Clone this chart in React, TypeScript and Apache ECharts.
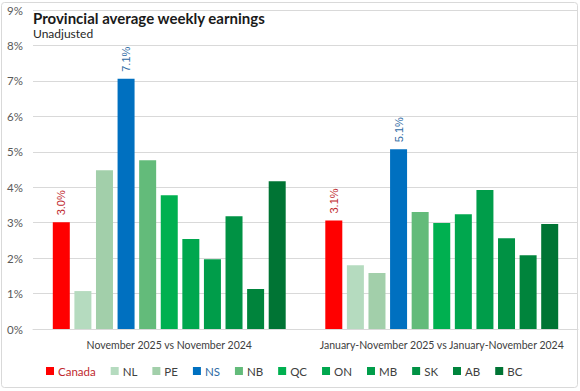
import React, { useEffect, useRef } from "react";
import * as echarts from "echarts";

const categories = ["November 2025 vs November 2024", "January-November 2025 vs January-November 2024"];
const seriesNames = ["Canada", "NL", "PE", "NS", "NB", "QC", "ON", "MB", "SK", "AB", "BC"];
const seriesColors = ["#ff0000", "#b5dbbf", "#a2cfaa", "#0070c0", "#63bb7a", "#00b050", "#00a74e", "#009d4a", "#009244", "#00843c", "#007434"];
const canada = [3.01, 3.06];
const nl = [1.07, 1.8];
const pe = [4.48, 1.58];
const ns = [7.06, 5.07];
const nb = [4.76, 3.3];
const qc = [3.77, 2.99];
const on = [2.54, 3.24];
const mb = [1.97, 3.92];
const sk = [3.18, 2.56];
const ab = [1.13, 2.08];
const bc = [4.17, 2.96];
const seriesValues = [canada, nl, pe, ns, nb, qc, on, mb, sk, ab, bc];
const labelledSeries: Record<string, string> = { Canada: "#c0282d", NS: "#2e6aa3" };
const yTicks = [0, 1, 2, 3, 4, 5, 6, 7, 8, 9];

export default function App() {
  const ref = useRef<HTMLDivElement>(null);
  useEffect(() => {
    if (!ref.current) return;
    const chart = echarts.init(ref.current, null, { renderer: "svg" });
    const font = "Lato, 'Liberation Sans', Arial, sans-serif";
    chart.setOption({
      animation: false,
      textStyle: { fontFamily: font },
      graphic: [
        {
          type: "rect",
          shape: { x: 1.5, y: 2.5, width: 576, height: 385, r: 3 },
          style: { fill: "none", stroke: "#d9d9d9", lineWidth: 1 },
          z: -1,
        },
        {
          type: "text",
          left: 33,
          top: 10,
          style: {
            text: "Provincial average weekly earnings",
            font: "bold 15px Lato, sans-serif",
            fill: "#1a1a1a",
          },
          z: 10,
        },
        {
          type: "text",
          left: 33,
          top: 27,
          style: {
            text: "Unadjusted",
            font: "12px Lato, sans-serif",
            fill: "#262626",
          },
          z: 10,
        },
      ],
      grid: { left: 33, right: 2, top: 10, bottom: 62 },
      legend: {
        bottom: 9,
        left: 41,
        icon: "rect",
        itemWidth: 8,
        itemHeight: 8,
        itemGap: 15,
        textStyle: { fontSize: 11.5, color: "#404040", fontFamily: font, padding: [0, 0, 0, -1] },
        data: seriesNames.map((n) => ({
          name: n,
          textStyle: labelledSeries[n] ? { color: labelledSeries[n] } : undefined,
        })),
      },
      xAxis: {
        type: "category",
        data: categories,
        axisTick: { show: false },
        axisLine: { lineStyle: { color: "#d9d9d9" } },
        axisLabel: { color: "#404040", fontSize: 10.5, margin: 10, interval: 0, fontFamily: font },
      },
      yAxis: {
        type: "value",
        min: yTicks[0],
        max: yTicks[yTicks.length - 1],
        interval: 1,
        axisLabel: { formatter: (v: number) => v + "%", color: "#595959", fontSize: 11.5, margin: 10, fontFamily: font },
        splitLine: { lineStyle: { color: "#d9d9d9" } },
      },
      series: seriesNames.map((name, i) => ({
        name,
        type: "bar",
        data: seriesValues[i],
        barWidth: 17,
        barGap: "27%",
        itemStyle: { color: seriesColors[i] },
        label: labelledSeries[name]
          ? {
              show: true,
              position: "top",
              rotate: 90,
              align: "left",
              verticalAlign: "middle",
              distance: 7,
              fontSize: 11,
              color: labelledSeries[name],
              fontFamily: "'Liberation Sans', sans-serif",
              formatter: (p: any) => p.value.toFixed(1) + "%",
            }
          : { show: false },
      })),
    });
    return () => chart.dispose();
  }, []);
  return <div ref={ref} style={{ width: 580, height: 391, position: "absolute", left: 0, top: 0 }} />;
}
